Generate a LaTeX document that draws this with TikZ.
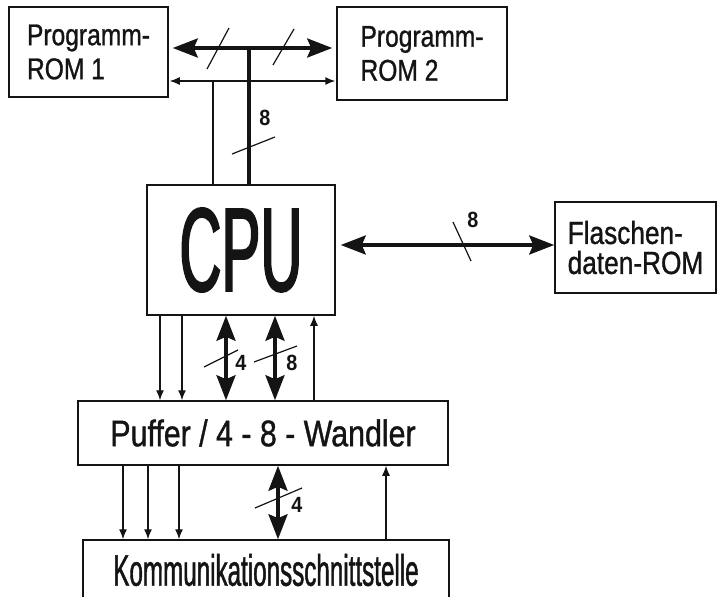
\documentclass[tikz,border=0pt]{standalone}
\usepackage{fontspec}
\setmainfont{Liberation Sans}
\newfontfamily\boxfont[FakeStretch=0.82,FakeBold=1]{Liberation Sans}
\newfontfamily\kommfont[FakeStretch=0.55,FakeBold=1]{Liberation Sans}
\newfontfamily\cpufont[FakeStretch=0.49,FakeBold=1.5]{Liberation Sans}
\newfontfamily\numfont[FakeStretch=0.9]{Liberation Sans}
\usetikzlibrary{arrows.meta}
\definecolor{ink}{HTML}{141414}

\begin{document}
\begin{tikzpicture}[x=1pt,y=-1pt,
    block/.style={draw=ink,line width=1.5pt,inner sep=0pt,text=ink},
    romtext/.style={font=\boxfont\fontsize{30}{34}\selectfont,align=left},
    bus/.style={draw=ink,line width=1.3pt},
    fatbus/.style={draw=ink,line width=3.5pt},
    onearrow/.style={bus,-{Latex[length=10pt,width=8pt]}},
    twoarrow/.style={bus,{Latex[length=10pt,width=8pt]}-{Latex[length=10pt,width=8pt]}},
    fatarrow/.style={fatbus,{Stealth[length=25pt,width=19pt,inset=4pt]}-{Stealth[length=25pt,width=19pt,inset=4pt]}},
    tick/.style={draw=ink,line width=1.2pt},
    bitcount/.style={font=\numfont\bfseries\fontsize{22}{22}\selectfont,text=ink,inner sep=0pt}]
  \clip (0,0) rectangle (718,597);

  % boxes
  \node[block,romtext,minimum width=159pt,minimum height=90pt] (rom1) at (88.5,52) {Programm-\\ROM 1};
  \node[block,romtext,minimum width=170pt,minimum height=93pt] (rom2) at (422,53.5) {Programm-\\ROM 2};
  \node[block,minimum width=188pt,minimum height=130pt,font=\cpufont\fontsize{119}{119}\selectfont] (cpu) at (241,250) {CPU};
  \node[block,minimum width=161pt,minimum height=91pt,align=left,font=\boxfont\fontsize{32}{30}\selectfont] (flash) at (635.5,247.5) {Flaschen-\\daten-ROM};
  \node[block,minimum width=370pt,minimum height=64pt,font=\boxfont\fontsize{37}{37}\selectfont] (puffer) at (263,433) {Puffer / 4 - 8 - Wandler};
  \node[block,minimum width=366pt,minimum height=60pt,font=\kommfont\fontsize{44}{44}\selectfont] (komm) at (266,570) {Kommunikationsschnittstelle};

  % program ROM buses
  \coordinate (topbus) at (249,48);
  \coordinate (lowbus) at (213,81);
  \draw[fatarrow,shorten <=4pt,shorten >=4pt] (rom1.east |- topbus) -- (rom2.west |- topbus);
  \draw[twoarrow,shorten <=1pt,shorten >=1pt] (rom1.east |- lowbus) -- (rom2.west |- lowbus);
  \draw[fatbus] (topbus) -- (cpu.north -| topbus);
  \draw[bus] (lowbus) -- (cpu.north -| lowbus);

  % flash ROM bus
  \draw[fatarrow,shorten <=5pt] (cpu.east |- 0,245) -- (flash.west |- 0,245);

  % CPU <-> Puffer
  \foreach \x in {160,182}
    \draw[onearrow] (cpu.south -| \x,0) -- (puffer.north -| \x,0);
  \foreach \x in {226,275}
    \draw[fatarrow] (cpu.south -| \x,0) -- (puffer.north -| \x,0);
  \draw[onearrow] (puffer.north -| 314,0) -- (cpu.south -| 314,0);

  % Puffer <-> Kommunikation
  \foreach \x in {123,148,179}
    \draw[onearrow] (puffer.south -| \x,0) -- (komm.north -| \x,0);
  \draw[fatarrow] (puffer.south -| 278,0) -- (komm.north -| 278,0);
  \draw[onearrow] (komm.north -| 386,0) -- (puffer.south -| 386,0);

  % bus width marks
  \foreach \xa/\ya/\xb/\yb in {207/69/229/28,273/65/294/29,232/154/275/137,453/222/471/261,
      204/367/238/350,254/362/297/346,255/508/302/488}
    \draw[tick] (\xa,\ya) -- (\xb,\yb);
  \node[bitcount] (bitsrom) at (265,118) {8};
  \node[bitcount] (bitsflash) at (473,220) {8};
  \node[bitcount] (bitscpu4) at (241,363) {4};
  \node[bitcount] (bitscpu8) at (292,363) {8};
  \node[bitcount] (bitskomm) at (297,505) {4};
\end{tikzpicture}
\end{document}
